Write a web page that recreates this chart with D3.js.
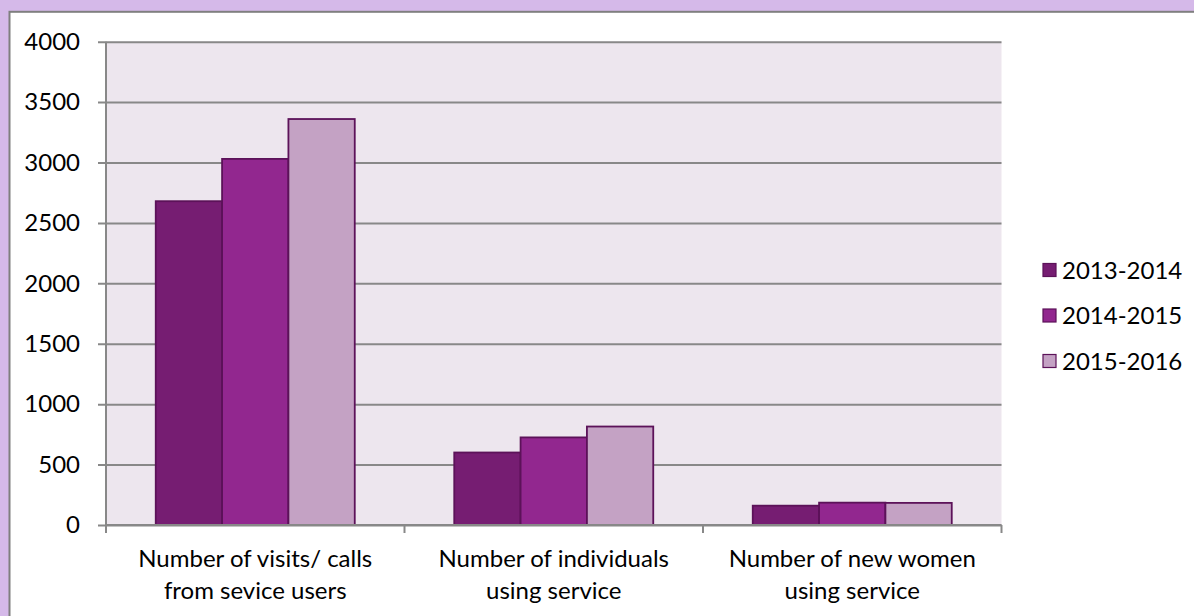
<!DOCTYPE html>
<html>
<head>
<meta charset="utf-8">
<script src="https://cdn.jsdelivr.net/npm/d3@7"></script>
<style>
  html, body { margin: 0; padding: 0; background: #d5b9e9; }
  svg { display: block; }
  text { font-family: Lato, "Open Sans", sans-serif; fill: #000; }
</style>
</head>
<body>
<div id="chart"></div>
<script>
var categories = ["Number of visits/ calls|from sevice users",
                  "Number of individuals|using service",
                  "Number of new women|using service"];
var seriesNames = ["2013-2014", "2014-2015", "2015-2016"];
var values2013 = [2680, 600, 160];
var values2014 = [3030, 725, 185];
var values2015 = [3360, 815, 183];
var seriesColors = ["#761d72", "#92278f", "#c4a2c4"];
var yTicks = [0, 500, 1000, 1500, 2000, 2500, 3000, 3500, 4000];

var dim = { width: 1194, height: 616 };
var plot = { left: 106, right: 1001.5, top: 41.7, bottom: 525 };
var fontSize = "24px";

var svg = d3.select("#chart").append("svg")
    .attr("width", dim.width)
    .attr("height", dim.height);

// white panel with grey border
svg.append("rect")
    .attr("x", 9.5).attr("y", 11.8)
    .attr("width", dim.width + 20).attr("height", dim.height + 20)
    .attr("fill", "#fff")
    .attr("stroke", "#7f7f7f")
    .attr("stroke-width", 2);

var x0 = d3.scaleBand()
    .domain(categories)
    .range([plot.left, plot.right])
    .padding(0);

var x1 = d3.scaleBand()
    .domain(seriesNames)
    .range([0, x0.bandwidth()])
    .paddingInner(0)
    .paddingOuter(0.75);

var y = d3.scaleLinear()
    .domain([0, 4000])
    .range([plot.bottom, plot.top]);

// plot background
svg.append("rect")
    .attr("x", plot.left).attr("y", plot.top)
    .attr("width", plot.right - plot.left)
    .attr("height", plot.bottom - plot.top)
    .attr("fill", "#ede6ee");

// grid lines + y axis
var yAxis = svg.append("g")
    .attr("transform", "translate(" + plot.left + ",0)")
    .call(d3.axisLeft(y)
        .tickValues(yTicks)
        .tickSize(-(plot.right - plot.left))
        .tickSizeOuter(0)
        .tickPadding(0)
        .tickFormat(d3.format("d")));
yAxis.select(".domain").remove();
yAxis.selectAll(".tick line")
    .attr("x1", -8)
    .attr("stroke", "#888")
    .attr("stroke-width", 2);
yAxis.selectAll(".tick text")
    .attr("x", -26)
    .style("font-size", fontSize)
    .style("font-family", "Lato, sans-serif")
    .attr("fill", "#000");

svg.append("line")
    .attr("x1", plot.left).attr("x2", plot.left)
    .attr("y1", plot.top).attr("y2", plot.bottom + 8)
    .attr("stroke", "#888").attr("stroke-width", 2);

// bars
var seriesData = [values2013, values2014, values2015];
var groups = svg.selectAll(".series")
    .data(seriesData).enter()
    .append("g")
    .attr("class", "series")
    .attr("fill", function(d, i) { return seriesColors[i]; });

groups.each(function(vals, si) {
    d3.select(this).selectAll("rect")
        .data(vals).enter()
        .append("rect")
        .attr("x", function(d, ci) { return x0(categories[ci]) + x1(seriesNames[si]); })
        .attr("y", function(d) { return y(d); })
        .attr("width", x1.bandwidth())
        .attr("height", function(d) { return y(0) - y(d); })
        .attr("stroke", "#5c1259")
        .attr("stroke-width", 1.8);
});

// x axis
var xAxis = svg.append("g")
    .attr("transform", "translate(0," + plot.bottom + ")");
xAxis.append("line")
    .attr("x1", plot.left).attr("x2", plot.right)
    .attr("stroke", "#888").attr("stroke-width", 2);
var bounds = categories.map(function(c) { return x0(c); }).concat([plot.right]);
xAxis.selectAll(".xtick")
    .data(bounds).enter()
    .append("line")
    .attr("x1", function(d) { return d; })
    .attr("x2", function(d) { return d; })
    .attr("y1", 0).attr("y2", 8)
    .attr("stroke", "#888").attr("stroke-width", 2);

var labels = xAxis.selectAll(".xlabel")
    .data(categories).enter()
    .append("text")
    .attr("text-anchor", "middle")
    .style("font-size", fontSize)
    .attr("transform", function(d) { return "translate(" + (x0(d) + x0.bandwidth() / 2) + ",0)"; });
labels.selectAll("tspan")
    .data(function(d) { return d.split("|"); }).enter()
    .append("tspan")
    .attr("x", 0)
    .attr("y", function(d, i) { return 42 + i * 32; })
    .text(function(d) { return d; });

// legend
var legend = svg.selectAll(".legend")
    .data(seriesNames).enter()
    .append("g")
    .attr("transform", function(d, i) { return "translate(1043," + (270 + i * 45.5) + ")"; });
legend.append("rect")
    .attr("x", 0).attr("y", -6.5)
    .attr("width", 13).attr("height", 13)
    .attr("fill", function(d, i) { return seriesColors[i]; })
    .attr("stroke", "#5c1259").attr("stroke-width", 1.2);
legend.append("text")
    .attr("x", 19).attr("dy", "0.36em")
    .style("font-size", fontSize)
    .text(function(d) { return d; });
</script>
</body>
</html>
